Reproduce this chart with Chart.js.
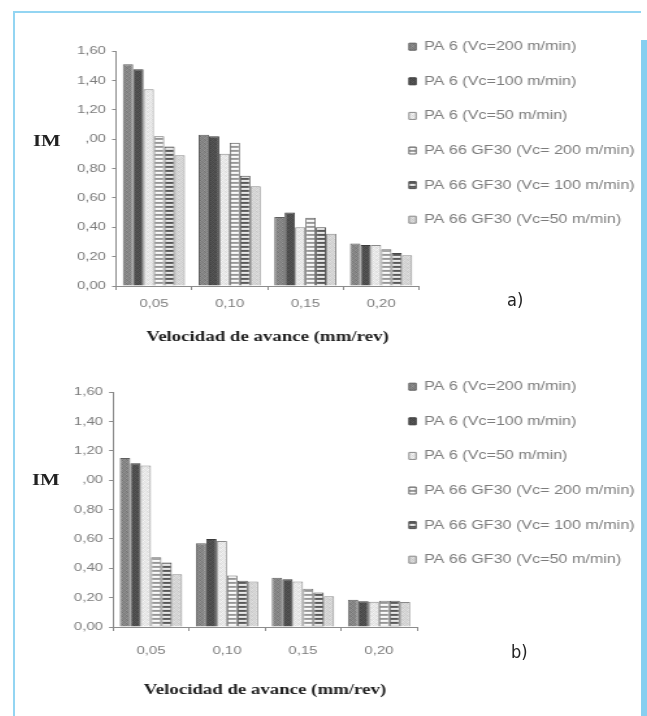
<!DOCTYPE html>
<html><head><meta charset="utf-8">
<script src="https://cdn.jsdelivr.net/npm/chart.js@4/dist/chart.umd.min.js"></script>
<style>
html,body{margin:0;padding:0;background:#fff;width:647px;height:716px;overflow:hidden;}
body{position:relative;}
.frameTop{position:absolute;left:13px;top:11px;width:628px;height:2px;background:#93d5f2;}
.frameLeft{position:absolute;left:13px;top:11px;width:2px;height:705px;background:#93d5f2;}
.frameRight{position:absolute;left:641px;top:40px;width:6px;height:676px;background:#86cff0;z-index:5;}
.wrap{position:absolute;left:14px;transform:scaleX(1.3);transform-origin:0 0;}
.wrap canvas{position:absolute;left:0;top:0;}
.im{position:absolute;font:bold 16px "Liberation Serif",serif;color:#222;line-height:16px;white-space:nowrap;}
.tag{position:absolute;font:18px "Liberation Sans Narrow","DejaVu Sans Condensed",sans-serif;color:#222;line-height:20px;}
</style></head><body>
<div class="frameTop"></div><div class="frameLeft"></div><div class="frameRight"></div>
<div class="wrap" id="wa" style="top:30px;width:485px;height:316px;">
  <canvas id="ca" width="485" height="316"></canvas>
  <div class="im" style="left:14.6px;top:103px;">IM</div>
</div>
<div class="wrap" id="wb" style="top:370px;width:485px;height:329px;">
  <canvas id="cb" width="485" height="329"></canvas>
  <div class="im" style="left:13.8px;top:102px;">IM</div>
</div>
<div class="tag" style="left:507px;top:290px;">a)</div>
<div class="tag" style="left:511px;top:642px;">b)</div>
<script>
// ---------- data ----------
const categories = ['0,05', '0,10', '0,15', '0,20'];
const yTickLabels = ['0,00', '0,20', '0,40', '0,60', '0,80', ',00', '1,20', '1,40', '1,60'];
const axisTitle = 'Velocidad de avance (mm/rev)';

const seriesNamesA = ['PA 6 (Vc=200 m/min)', 'PA 6 (Vc=100 m/min)', 'PA 6 (Vc=50 m/min)',
  'PA 66 GF30 (Vc= 200 m/min)', 'PA 66 GF30 (Vc= 100 m/min)', 'PA 66 GF30 (Vc=50 m/min)'];
const seriesNamesB = ['PA 6 (Vc=200 m/min)', 'PA 6 (Vc=100 m/min)', 'PA 6 (Vc=50 m/min)',
  'PA 66 GF30 (Vc= 200 m/min)', 'PA 66 GF30 (Vc= 100 m/min)', 'PA 66 GF30 (Vc=50 m/min)'];

// chart a)
const a_pa6_200 = [1.51, 1.03, 0.47, 0.29];
const a_pa6_100 = [1.475, 1.02, 0.50, 0.28];
const a_pa6_50 = [1.34, 0.90, 0.40, 0.28];
const a_pa66_200 = [1.02, 0.975, 0.465, 0.25];
const a_pa66_100 = [0.95, 0.75, 0.40, 0.225];
const a_pa66_50 = [0.89, 0.68, 0.355, 0.21];

// chart b)
const b_pa6_200 = [1.15, 0.57, 0.335, 0.185];
const b_pa6_100 = [1.115, 0.60, 0.325, 0.175];
const b_pa6_50 = [1.10, 0.585, 0.31, 0.172];
const b_pa66_200 = [0.475, 0.35, 0.26, 0.178];
const b_pa66_100 = [0.44, 0.315, 0.235, 0.178];
const b_pa66_50 = [0.36, 0.31, 0.21, 0.17];

// ---------- styles ----------
const textures = [
  [[138,120,150,130],[125,145,118,140],[150,128,136,115],[120,140,128,148]],
  [[82,70,90,75],[72,88,68,84],[90,74,80,66],[70,86,76,92]],
  [[236,222,244,228],[224,240,216,232],[244,228,234,220],[222,238,228,246]],
  [[150,150,150,150],[165,165,165,165],[250,250,250,250],[242,242,242,242]],
  [[88,88,88,88],[105,105,105,105],[232,232,232,232],[220,220,220,220]],
  [[218,202,224,210],[206,220,198,214],[224,208,216,202],[204,218,210,226]]
];
const borders = ['#5e5e5e', '#3a3a3a', '#8a8a8a', '#6a6a6a', '#4a4a4a', '#8a8a8a'];
const axisColor = '#8c8c8c';
const tickColor = '#7c7c7c';

function tileCanvas(g) {
  const c = document.createElement('canvas');
  c.width = g[0].length; c.height = g.length;
  const x = c.getContext('2d');
  const img = x.createImageData(c.width, c.height);
  for (let r = 0; r < g.length; r++) for (let k = 0; k < g[r].length; k++) {
    const p = (r * c.width + k) * 4;
    img.data[p] = img.data[p + 1] = img.data[p + 2] = g[r][k];
    img.data[p + 3] = 255;
  }
  x.putImageData(img, 0, 0);
  return c;
}

// place the legend block where the reference has it (it overlaps the plot's right margin)
const legendShift = {
  id: 'legendShift',
  afterLayout(chart, args, opts) {
    const lg = chart.legend;
    if (!lg || opts.left == null) return;
    lg.left = opts.left;
    lg.width = chart.width - opts.left;
    lg.right = lg.left + lg.width;
  }
};

function makeChart(id, names, series, cfg) {
  const ctx = document.getElementById(id).getContext('2d');
  const fills = textures.map(t => ctx.createPattern(tileCanvas(t), 'repeat'));
  return new Chart(ctx, {
    type: 'bar',
    data: {
      labels: categories,
      datasets: series.map((d, i) => ({
        label: names[i], data: d,
        backgroundColor: fills[i], borderColor: borders[i], borderWidth: 1,
        categoryPercentage: 0.82, barPercentage: 1
      }))
    },
    plugins: [legendShift],
    options: {
      responsive: false, animation: false, devicePixelRatio: 1,
      layout: { padding: { left: 0, top: 8.5, right: cfg.pr, bottom: 0.5 } },
      plugins: {
        legendShift: { left: 301.85 },
        tooltip: { enabled: false },
        title: { display: true, text: '', padding: 0, font: { size: 10, lineHeight: cfg.spacer + 'px' } },
        legend: {
          position: 'right', align: 'start', maxWidth: 100,
          labels: {
            boxWidth: 5.4, boxHeight: 7, padding: 2, color: tickColor,
            font: { family: 'Liberation Sans', size: 12.4, lineHeight: '32.6px' },
            generateLabels: c => Chart.defaults.plugins.legend.labels.generateLabels(c)
              .map(l => Object.assign(l, { text: [l.text] }))
          }
        }
      },
      scales: {
        x: {
          grid: { drawOnChartArea: false, tickLength: 4, color: axisColor, offset: true },
          border: { color: axisColor },
          ticks: { color: tickColor, padding: cfg.xtp, font: { family: 'Liberation Sans', size: 11.5 } },
          title: {
            display: true, text: axisTitle, color: '#1e1e1e',
            padding: { top: cfg.ttp, bottom: 0 },
            font: { family: 'Liberation Serif', size: 14.5, weight: 'bold', lineHeight: '17px' }
          }
        },
        y: {
          min: 0, max: 1.6,
          ticks: { stepSize: 0.2, color: tickColor, padding: 4.7,
            font: { family: 'Liberation Sans', size: 11.5 },
            callback: (v, i) => yTickLabels[i] },
          grid: { drawOnChartArea: false, tickLength: 3, color: axisColor },
          border: { color: axisColor },
          afterFit: s => { s.width = cfg.yW; }
        }
      }
    }
  });
}

makeChart('ca', seriesNamesA,
  [a_pa6_200, a_pa6_100, a_pa6_50, a_pa66_200, a_pa66_100, a_pa66_50],
  { pr: 73.46, spacer: 12.5, xtp: 7.1, ttp: 10.5, yW: 78.46 });
makeChart('cb', seriesNamesB,
  [b_pa6_200, b_pa6_100, b_pa6_50, b_pa66_200, b_pa66_100, b_pa66_50],
  { pr: 75, spacer: 13.5, xtp: 13.1, ttp: 10.5, yW: 76.15 });
</script>
</body></html>
